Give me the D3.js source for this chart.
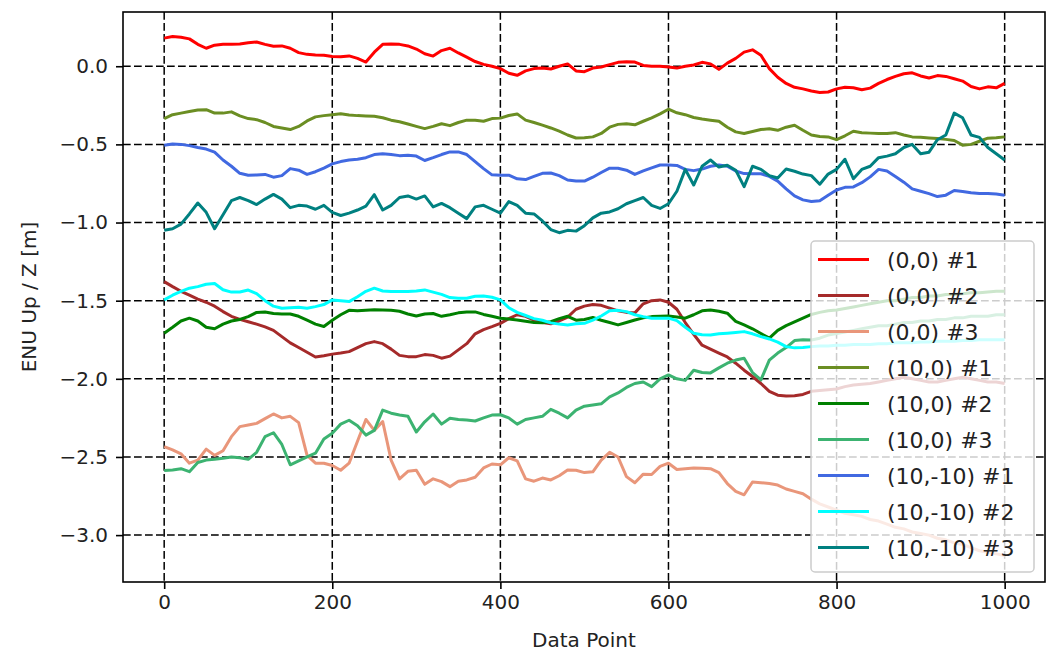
<!DOCTYPE html>
<html>
<head>
<meta charset="utf-8">
<script src="https://cdn.jsdelivr.net/npm/d3@7"></script>
<style>
  html, body { margin: 0; padding: 0; background: #ffffff; }
  svg { display: block; font-family: "DejaVu Sans", sans-serif; }
</style>
</head>
<body>
<svg id="chart" width="1046" height="658"></svg>
<script>
// Sample index along the x axis (every 10th data point)
const dataPoints = d3.range(0, 1001, 10);

const seriesNames = ["(0,0) #1", "(0,0) #2", "(0,0) #3",
                     "(10,0) #1", "(10,0) #2", "(10,0) #3",
                     "(10,-10) #1", "(10,-10) #2", "(10,-10) #3"];
const seriesColors = ["#ff0000", "#a52a2a", "#e9967a",
                      "#6b8e23", "#008000", "#3cb371",
                      "#4169e1", "#00ffff", "#008080"];

const xTicks = [0, 200, 400, 600, 800, 1000];
const yTicks = [0.0, -0.5, -1.0, -1.5, -2.0, -2.5, -3.0];

// ENU up component per run [m]
const up00_1 = [0.18,0.19,0.185,0.175,0.14,0.115,0.135,0.14,0.14,0.142,
  0.15,0.155,0.14,0.128,0.13,0.115,0.087,0.076,0.072,0.07,
  0.062,0.06,0.066,0.05,0.027,0.09,0.14,0.142,0.14,0.13,
  0.11,0.08,0.065,0.1,0.115,0.085,0.058,0.03,0.012,0.0,
  -0.015,-0.045,-0.058,-0.03,-0.015,-0.012,-0.018,0.0,0.015,-0.03,
  -0.035,-0.012,-0.005,0.01,0.025,0.028,0.027,0.005,0.0,0.0,
  -0.005,-0.012,0.0,0.008,0.025,0.015,-0.02,0.02,0.05,0.09,
  0.105,0.07,-0.015,-0.07,-0.11,-0.135,-0.145,-0.158,-0.168,-0.165,
  -0.145,-0.135,-0.138,-0.15,-0.14,-0.11,-0.085,-0.065,-0.048,-0.042,
  -0.062,-0.075,-0.06,-0.065,-0.08,-0.095,-0.13,-0.145,-0.132,-0.138,
  -0.11];

const up00_2 = [-1.378,-1.41,-1.44,-1.465,-1.49,-1.51,-1.535,-1.57,-1.6,-1.62,
  -1.635,-1.65,-1.668,-1.69,-1.73,-1.77,-1.8,-1.83,-1.86,-1.852,
  -1.842,-1.835,-1.826,-1.8,-1.775,-1.762,-1.775,-1.81,-1.85,-1.858,
  -1.858,-1.845,-1.85,-1.868,-1.855,-1.815,-1.775,-1.712,-1.685,-1.666,
  -1.645,-1.615,-1.59,-1.6,-1.625,-1.64,-1.648,-1.63,-1.605,-1.555,
  -1.535,-1.525,-1.53,-1.548,-1.565,-1.575,-1.578,-1.52,-1.5,-1.495,
  -1.51,-1.555,-1.64,-1.715,-1.785,-1.81,-1.835,-1.86,-1.9,-1.945,
  -1.985,-2.03,-2.08,-2.105,-2.11,-2.108,-2.1,-2.08,-2.075,-2.07,
  -2.065,-2.05,-2.04,-2.035,-2.03,-2.02,-2.01,-2.0,-1.99,-2.0,
  -2.01,-2.02,-2.02,-2.01,-2.0,-1.99,-2.0,-2.01,-2.02,-2.02,
  -2.03];

const up00_3 = [-2.434,-2.455,-2.48,-2.54,-2.52,-2.45,-2.49,-2.46,-2.37,-2.306,
  -2.295,-2.285,-2.255,-2.225,-2.25,-2.24,-2.28,-2.49,-2.54,-2.54,
  -2.555,-2.585,-2.54,-2.4,-2.26,-2.33,-2.273,-2.52,-2.64,-2.592,
  -2.585,-2.675,-2.64,-2.658,-2.69,-2.655,-2.647,-2.63,-2.57,-2.545,
  -2.55,-2.505,-2.525,-2.64,-2.655,-2.635,-2.647,-2.62,-2.583,-2.585,
  -2.6,-2.595,-2.52,-2.47,-2.5,-2.626,-2.665,-2.61,-2.612,-2.56,
  -2.54,-2.58,-2.575,-2.57,-2.572,-2.575,-2.6,-2.67,-2.72,-2.742,
  -2.66,-2.665,-2.67,-2.68,-2.705,-2.72,-2.735,-2.77,-2.8,-2.82,
  -2.84,-2.86,-2.87,-2.88,-2.9,-2.91,-2.93,-2.95,-2.96,-2.98,
  -2.99,-3.0,-3.02,-3.03,-3.05,-3.06,-3.08,-3.1,-3.11,-3.12,
  -3.13];

const up100_1 = [-0.335,-0.31,-0.3,-0.29,-0.28,-0.278,-0.3,-0.3,-0.292,-0.318,
  -0.335,-0.342,-0.36,-0.385,-0.395,-0.405,-0.385,-0.35,-0.324,-0.316,
  -0.31,-0.304,-0.312,-0.316,-0.318,-0.32,-0.33,-0.345,-0.355,-0.37,
  -0.385,-0.399,-0.385,-0.368,-0.38,-0.36,-0.345,-0.345,-0.352,-0.335,
  -0.332,-0.315,-0.305,-0.345,-0.36,-0.377,-0.395,-0.415,-0.44,-0.459,
  -0.458,-0.452,-0.43,-0.39,-0.372,-0.368,-0.375,-0.352,-0.33,-0.305,
  -0.275,-0.298,-0.31,-0.328,-0.338,-0.345,-0.352,-0.39,-0.42,-0.43,
  -0.418,-0.405,-0.4,-0.41,-0.39,-0.378,-0.41,-0.44,-0.45,-0.452,
  -0.47,-0.445,-0.416,-0.425,-0.428,-0.43,-0.43,-0.425,-0.44,-0.452,
  -0.455,-0.459,-0.462,-0.468,-0.475,-0.505,-0.5,-0.48,-0.46,-0.458,
  -0.452];

const up100_2 = [-1.708,-1.67,-1.63,-1.612,-1.63,-1.67,-1.68,-1.65,-1.63,-1.62,
  -1.602,-1.575,-1.572,-1.582,-1.585,-1.585,-1.6,-1.625,-1.65,-1.665,
  -1.625,-1.59,-1.562,-1.565,-1.562,-1.558,-1.56,-1.562,-1.568,-1.585,
  -1.598,-1.585,-1.582,-1.6,-1.59,-1.578,-1.572,-1.572,-1.588,-1.6,
  -1.612,-1.618,-1.623,-1.632,-1.64,-1.642,-1.634,-1.615,-1.6,-1.625,
  -1.62,-1.608,-1.625,-1.64,-1.655,-1.64,-1.624,-1.61,-1.602,-1.6,
  -1.598,-1.605,-1.612,-1.59,-1.565,-1.56,-1.568,-1.58,-1.632,-1.655,
  -1.68,-1.71,-1.74,-1.69,-1.66,-1.636,-1.612,-1.588,-1.575,-1.565,
  -1.56,-1.55,-1.54,-1.53,-1.52,-1.51,-1.5,-1.5,-1.49,-1.48,
  -1.48,-1.47,-1.47,-1.46,-1.46,-1.455,-1.45,-1.45,-1.445,-1.44,
  -1.44];

const up100_3 = [-2.587,-2.583,-2.575,-2.594,-2.535,-2.52,-2.515,-2.508,-2.5,-2.505,
  -2.515,-2.47,-2.37,-2.345,-2.42,-2.55,-2.525,-2.5,-2.476,-2.385,
  -2.348,-2.29,-2.265,-2.3,-2.36,-2.33,-2.2,-2.22,-2.231,-2.24,
  -2.34,-2.275,-2.225,-2.29,-2.252,-2.26,-2.264,-2.27,-2.25,-2.232,
  -2.23,-2.25,-2.29,-2.26,-2.25,-2.24,-2.195,-2.22,-2.25,-2.2,
  -2.175,-2.168,-2.16,-2.115,-2.09,-2.055,-2.03,-2.02,-2.05,-2.0,
  -1.975,-2.0,-2.01,-1.945,-1.96,-1.962,-1.93,-1.9,-1.88,-1.868,
  -1.96,-2.007,-1.88,-1.835,-1.8,-1.755,-1.75,-1.752,-1.74,-1.72,
  -1.71,-1.7,-1.69,-1.68,-1.67,-1.66,-1.66,-1.65,-1.64,-1.64,
  -1.63,-1.63,-1.62,-1.62,-1.61,-1.61,-1.6,-1.6,-1.6,-1.59,
  -1.59];

const up1010_1 = [-0.505,-0.498,-0.5,-0.508,-0.52,-0.53,-0.55,-0.6,-0.64,-0.685,
  -0.697,-0.696,-0.692,-0.71,-0.7,-0.655,-0.665,-0.692,-0.675,-0.652,
  -0.625,-0.61,-0.6,-0.595,-0.585,-0.565,-0.56,-0.565,-0.572,-0.57,
  -0.575,-0.603,-0.585,-0.565,-0.548,-0.548,-0.565,-0.61,-0.655,-0.695,
  -0.698,-0.697,-0.72,-0.725,-0.705,-0.685,-0.683,-0.7,-0.728,-0.735,
  -0.735,-0.71,-0.68,-0.652,-0.653,-0.665,-0.692,-0.67,-0.65,-0.632,
  -0.632,-0.635,-0.66,-0.668,-0.658,-0.64,-0.632,-0.64,-0.67,-0.687,
  -0.688,-0.688,-0.705,-0.735,-0.785,-0.83,-0.855,-0.866,-0.86,-0.825,
  -0.792,-0.775,-0.772,-0.745,-0.708,-0.66,-0.67,-0.705,-0.742,-0.785,
  -0.8,-0.815,-0.834,-0.825,-0.795,-0.802,-0.81,-0.815,-0.815,-0.818,
  -0.825];

const up1010_2 = [-1.495,-1.465,-1.44,-1.42,-1.41,-1.395,-1.39,-1.43,-1.445,-1.445,
  -1.432,-1.455,-1.5,-1.535,-1.548,-1.545,-1.542,-1.548,-1.538,-1.525,
  -1.495,-1.5,-1.506,-1.475,-1.44,-1.42,-1.438,-1.442,-1.442,-1.442,
  -1.438,-1.431,-1.445,-1.46,-1.48,-1.484,-1.484,-1.472,-1.47,-1.478,
  -1.495,-1.545,-1.575,-1.595,-1.615,-1.625,-1.642,-1.65,-1.655,-1.648,
  -1.645,-1.625,-1.598,-1.565,-1.562,-1.57,-1.59,-1.602,-1.612,-1.612,
  -1.612,-1.628,-1.67,-1.708,-1.718,-1.719,-1.712,-1.708,-1.703,-1.698,
  -1.712,-1.73,-1.745,-1.765,-1.794,-1.802,-1.8,-1.794,-1.79,-1.79,
  -1.785,-1.785,-1.78,-1.78,-1.78,-1.775,-1.775,-1.77,-1.77,-1.77,
  -1.765,-1.765,-1.76,-1.76,-1.76,-1.755,-1.755,-1.75,-1.75,-1.75,
  -1.75];

const up1010_3 = [-1.05,-1.04,-1.01,-0.945,-0.875,-0.935,-1.04,-0.95,-0.86,-0.84,
  -0.86,-0.885,-0.85,-0.82,-0.85,-0.905,-0.89,-0.895,-0.915,-0.89,
  -0.935,-0.955,-0.94,-0.92,-0.895,-0.822,-0.92,-0.89,-0.84,-0.83,
  -0.85,-0.83,-0.9,-0.878,-0.905,-0.94,-0.975,-0.9,-0.89,-0.915,
  -0.94,-0.866,-0.89,-0.94,-0.945,-0.99,-1.045,-1.065,-1.05,-1.055,
  -1.02,-0.97,-0.94,-0.932,-0.912,-0.88,-0.86,-0.84,-0.89,-0.91,
  -0.88,-0.8,-0.66,-0.76,-0.64,-0.6,-0.645,-0.633,-0.665,-0.77,
  -0.64,-0.66,-0.7,-0.715,-0.658,-0.672,-0.69,-0.7,-0.755,-0.69,
  -0.66,-0.595,-0.72,-0.66,-0.64,-0.585,-0.575,-0.56,-0.52,-0.5,
  -0.56,-0.55,-0.47,-0.44,-0.3,-0.33,-0.44,-0.455,-0.52,-0.56,
  -0.6];

const seriesValues = [up00_1, up00_2, up00_3, up100_1, up100_2, up100_3,
                      up1010_1, up1010_2, up1010_3];

// Layout
const plot = { left: 123, top: 12, right: 1045, bottom: 582 };

const svg = d3.select("#chart");

const x = d3.scaleLinear().domain([-49, 1048]).range([plot.left, plot.right]);
const y = d3.scaleLinear().domain([-3.30, 0.347]).range([plot.bottom, plot.top]);

// Dashed grid
const grid = svg.append("g").attr("class", "grid");
grid.selectAll("line.gx").data(xTicks).join("line")
  .attr("x1", d => x(d)).attr("x2", d => x(d))
  .attr("y1", plot.top).attr("y2", plot.bottom)
  .attr("stroke", "#000").attr("stroke-width", 1.5)
  .attr("stroke-dasharray", "7.7,3.3");
grid.selectAll("line.gy").data(yTicks).join("line")
  .attr("x1", plot.left).attr("x2", plot.right)
  .attr("y1", d => y(d)).attr("y2", d => y(d))
  .attr("stroke", "#000").attr("stroke-width", 1.5)
  .attr("stroke-dasharray", "7.7,3.3");

// Series lines
const line = d3.line()
  .x((d, i) => x(dataPoints[i]))
  .y(d => y(d));

svg.append("g").selectAll("path").data(seriesValues).join("path")
  .attr("d", d => line(d))
  .attr("fill", "none")
  .attr("stroke", (d, i) => seriesColors[i])
  .attr("stroke-width", 3)
  .attr("stroke-linejoin", "round")
  .attr("stroke-linecap", "butt");

// Axes
const fmtY = v => (v < 0 ? "\u2212" : "") + Math.abs(v).toFixed(1);

const xAxis = d3.axisBottom(x).tickValues(xTicks).tickSize(7).tickPadding(6)
  .tickFormat(d3.format("d"));
const yAxis = d3.axisLeft(y).tickValues(yTicks).tickSize(7).tickPadding(8)
  .tickFormat(fmtY);

const gx = svg.append("g").attr("transform", `translate(0,${plot.bottom})`).call(xAxis);
const gy = svg.append("g").attr("transform", `translate(${plot.left},0)`).call(yAxis);
[gx, gy].forEach(g => {
  g.select(".domain").remove();
  g.selectAll(".tick line").attr("stroke", "#000").attr("stroke-width", 1.6);
  g.selectAll(".tick text").attr("fill", "#222")
    .style("font-family", "'DejaVu Sans', sans-serif").style("font-size", "20px");
});

// Frame
svg.append("rect")
  .attr("x", plot.left).attr("y", plot.top)
  .attr("width", plot.right - plot.left).attr("height", plot.bottom - plot.top)
  .attr("fill", "none").attr("stroke", "#000").attr("stroke-width", 1.6);

// Axis titles
svg.append("text")
  .attr("x", (plot.left + plot.right) / 2).attr("y", 647)
  .attr("text-anchor", "middle").attr("fill", "#222")
  .style("font-size", "20px").text("Data Point");
svg.append("text")
  .attr("transform", `translate(36,${(plot.top + plot.bottom) / 2}) rotate(-90)`)
  .attr("text-anchor", "middle").attr("fill", "#222")
  .style("font-size", "20px").text("ENU Up / Z [m]");

// Legend
const legend = svg.append("g");
const lg = { x: 811, y: 241, w: 223, h: 331, row: 36, first: 259.5 };
legend.append("rect")
  .attr("x", lg.x).attr("y", lg.y).attr("width", lg.w).attr("height", lg.h)
  .attr("rx", 4).attr("ry", 4)
  .attr("fill", "#ffffff").attr("fill-opacity", 0.8)
  .attr("stroke", "#cccccc").attr("stroke-width", 1.5);
const rows = legend.selectAll("g.row").data(seriesNames).join("g")
  .attr("transform", (d, i) => `translate(0,${lg.first + i * lg.row})`);
rows.append("line")
  .attr("x1", 818).attr("x2", 869).attr("y1", 0).attr("y2", 0)
  .attr("stroke", (d, i) => seriesColors[i]).attr("stroke-width", 3);
rows.append("text")
  .attr("x", 887).attr("y", 8)
  .attr("fill", "#222").style("font-size", "22px")
  .text(d => d);
</script>
</body>
</html>
